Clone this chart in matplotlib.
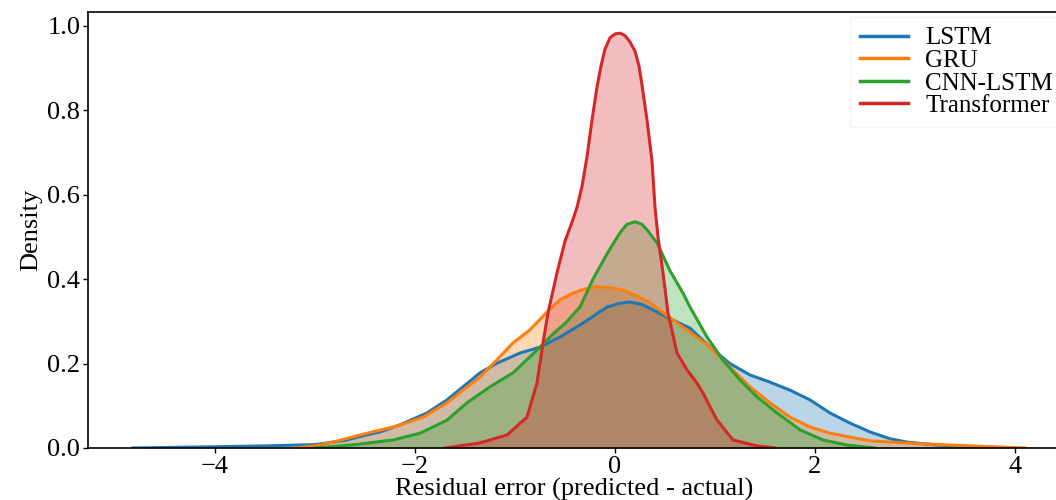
import matplotlib
matplotlib.use('Agg')
import matplotlib.pyplot as plt

# density curves (residual error -> density)
lstm_x = [-4.82, -4.0, -3.5, -3.0, -2.7, -2.5, -2.35, -2.15, -1.88, -1.68, -1.52, -1.35, -1.18,
          -0.95, -0.75, -0.55, -0.32, -0.08, 0.05, 0.15, 0.27, 0.38, 0.58, 0.75, 0.95, 1.15, 1.35,
          1.55, 1.75, 1.95, 2.15, 2.35, 2.55, 2.75, 2.92, 3.22, 3.6, 4.0]
lstm_y = [0.0, 0.003, 0.005, 0.008, 0.018, 0.03, 0.038, 0.055, 0.083, 0.114, 0.145, 0.178, 0.201,
          0.225, 0.239, 0.263, 0.296, 0.334, 0.343, 0.346, 0.340, 0.327, 0.303, 0.284, 0.239, 0.200,
          0.173, 0.156, 0.137, 0.114, 0.083, 0.059, 0.038, 0.022, 0.014, 0.007, 0.003, 0.0]

gru_x = [-3.2, -3.0, -2.82, -2.48, -2.18, -1.92, -1.68, -1.52, -1.35, -1.18, -1.02, -0.85, -0.68,
         -0.55, -0.42, -0.30, -0.18, -0.05, 0.08, 0.20, 0.35, 0.58, 0.75, 0.95, 1.15, 1.35, 1.55,
         1.75, 1.95, 2.15, 2.35, 2.55, 3.05, 3.55, 4.1]
gru_y = [0.0, 0.005, 0.014, 0.035, 0.052, 0.073, 0.107, 0.137, 0.168, 0.209, 0.249, 0.280, 0.322,
         0.351, 0.367, 0.377, 0.382, 0.380, 0.374, 0.362, 0.344, 0.303, 0.275, 0.239, 0.192, 0.145,
         0.107, 0.073, 0.050, 0.035, 0.026, 0.017, 0.010, 0.005, 0.0]

cnn_x = [-3.0, -2.6, -2.22, -1.95, -1.68, -1.48, -1.25, -1.02, -0.78, -0.62, -0.5, -0.35, -0.22,
         -0.08, 0.05, 0.12, 0.20, 0.27, 0.32, 0.42, 0.55, 0.68, 0.75, 0.92, 1.08, 1.25, 1.42,
         1.62, 1.85, 2.08, 2.32, 2.6]
cnn_y = [0.0, 0.008, 0.019, 0.035, 0.066, 0.107, 0.145, 0.178, 0.232, 0.270, 0.295, 0.334, 0.40,
         0.46, 0.51, 0.530, 0.536, 0.530, 0.517, 0.486, 0.42, 0.367, 0.334, 0.263, 0.208, 0.161,
         0.121, 0.083, 0.043, 0.019, 0.007, 0.0]

trans_x = [-1.7, -1.35, -1.08, -0.88, -0.78, -0.72, -0.67, -0.58, -0.50, -0.43, -0.38, -0.33,
           -0.28, -0.23, -0.18, -0.14, -0.10, -0.05, 0.0, 0.05, 0.10, 0.15, 0.20, 0.24, 0.27, 0.32,
           0.37, 0.40, 0.43, 0.48, 0.53, 0.62, 0.72, 0.82, 0.88, 1.02, 1.18, 1.42, 1.6]
trans_y = [0.0, 0.012, 0.031, 0.073, 0.154, 0.249, 0.32, 0.415, 0.49, 0.535, 0.57, 0.62,
           0.69, 0.777, 0.855, 0.905, 0.945, 0.972, 0.981, 0.983, 0.977, 0.962, 0.94, 0.905, 0.86,
           0.777, 0.68, 0.57, 0.50, 0.415, 0.32, 0.225, 0.185, 0.154, 0.13, 0.066, 0.019, 0.005, 0.0]

labels = ['LSTM', 'GRU', 'CNN-LSTM', 'Transformer']
colors = ['#1f77b4', '#ff7f0e', '#2ca02c', '#d62728']

plt.rcParams['font.family'] = ['Liberation Serif', 'DejaVu Serif']

fig = plt.figure(figsize=(10.56, 5.0), dpi=100)
ax = fig.add_axes([88/1056, 52/500, 972/1056, 436/500])

series = [(lstm_x, lstm_y), (gru_x, gru_y), (cnn_x, cnn_y), (trans_x, trans_y)]
for (xs, ys), lab, col in zip(series, labels, colors):
    ax.fill_between(xs, ys, 0, color=col, alpha=0.3, linewidth=0)
    ax.plot(xs, ys, color=col, lw=2.2, label=lab, solid_joinstyle='round')

ax.set_xlim(-5.27, 4.45)
ax.set_ylim(0, 1.033)
ax.set_xticks([-4, -2, 0, 2, 4])
ax.set_xticklabels(['\u22124', '\u22122', '0', '2', '4'])
ax.set_yticks([0.0, 0.2, 0.4, 0.6, 0.8, 1.0])
ax.set_yticklabels(['0.0', '0.2', '0.4', '0.6', '0.8', '1.0'])
ax.tick_params(labelsize=19, length=3.5, width=1, pad=2)
ax.spines['right'].set_visible(False)
for s in ['left', 'top', 'bottom']:
    ax.spines[s].set_linewidth(1.2)

ax.set_xlabel('Residual error (predicted - actual)', fontsize=19, labelpad=0)
ax.set_ylabel('Density', fontsize=19, labelpad=4)

leg = ax.legend(loc='upper right', bbox_to_anchor=(1.008, 1.0), fontsize=18, handlelength=1.9,
                handletextpad=0.7, labelspacing=0.0, borderaxespad=0.2, frameon=True,
                fancybox=False, framealpha=1.0, edgecolor='#f4f4f4')
for line in leg.get_lines():
    line.set_linewidth(2.5)

plt.savefig('out.png', dpi=100)
